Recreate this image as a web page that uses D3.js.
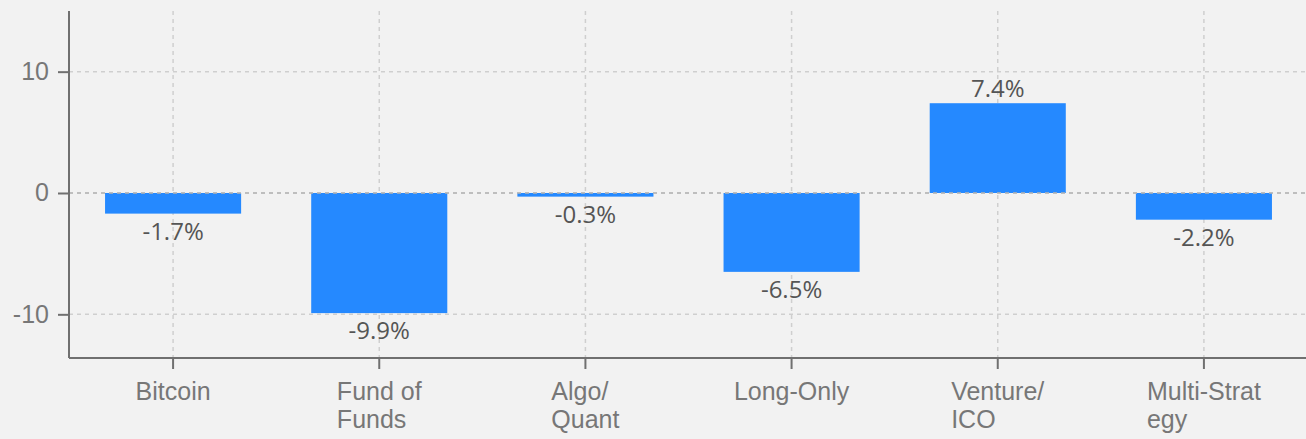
<!DOCTYPE html>
<html>
<head>
<meta charset="utf-8">
<script src="https://cdn.jsdelivr.net/npm/d3@7"></script>
<style>
  html, body { margin: 0; padding: 0; background: #f2f2f2; }
  svg { display: block; }
</style>
</head>
<body>
<div id="chart"></div>
<script>
var categories = ["Bitcoin", "Fund of Funds", "Algo/Quant", "Long-Only", "Venture/ICO", "Multi-Strategy"]
var labelLines = [["Bitcoin"], ["Fund of", "Funds"], ["Algo/", "Quant"], ["Long-Only"], ["Venture/", "ICO"], ["Multi-Strat", "egy"]]
var values = [-1.7, -9.9, -0.3, -6.5, 7.4, -2.2]
var yTicks = [-10, 0, 10]

var width = 1306,
    height = 439,
    margin = {top: 11, right: 0, bottom: 81, left: 69}

var svg = d3.select("#chart")
  .append("svg")
    .attr("width", width)
    .attr("height", height)

svg.append("rect")
  .attr("width", width).attr("height", height)
  .attr("fill", "#f2f2f2")

var x = d3.scaleBand()
  .domain(categories)
  .range([margin.left + 1, width - margin.right + 1])
  .padding(0)

var y = d3.scaleLinear()
  .domain([-13.6, 15])
  .range([height - margin.bottom, margin.top])

var barW = x.bandwidth() * 0.66

// vertical grid
svg.append("g")
  .selectAll("line")
  .data(categories)
  .enter().append("line")
    .attr("x1", function(d) { return x(d) + x.bandwidth() / 2 })
    .attr("x2", function(d) { return x(d) + x.bandwidth() / 2 })
    .attr("y1", margin.top)
    .attr("y2", height - margin.bottom)
    .attr("stroke", "#cfcfcf")
    .attr("stroke-width", 1.5)
    .attr("stroke-dasharray", "4,4")

// horizontal grid
svg.append("g")
  .selectAll("line")
  .data(yTicks)
  .enter().append("line")
    .attr("x1", margin.left)
    .attr("x2", width)
    .attr("y1", function(d) { return y(d) })
    .attr("y2", function(d) { return y(d) })
    .attr("stroke", "#cfcfcf")
    .attr("stroke-width", 1.5)
    .attr("stroke-dasharray", "4,4")

// bars
svg.append("g")
  .selectAll("rect")
  .data(values)
  .enter().append("rect")
    .attr("x", function(d, i) { return x(categories[i]) + (x.bandwidth() - barW) / 2 })
    .attr("width", barW)
    .attr("y", function(d) { return y(Math.max(0, d)) })
    .attr("height", function(d) { return Math.abs(y(d) - y(0)) })
    .attr("fill", "#2589ff")

// zero line on top
svg.append("line")
  .attr("x1", margin.left).attr("x2", width)
  .attr("y1", y(0)).attr("y2", y(0))
  .attr("stroke", "#b5b5b5")
  .attr("stroke-width", 1.5)
  .attr("stroke-dasharray", "4,4")

// value labels
svg.append("g")
  .selectAll("text")
  .data(values)
  .enter().append("text")
    .attr("x", function(d, i) { return x(categories[i]) + x.bandwidth() / 2 })
    .attr("y", function(d) { return d < 0 ? y(d) + 26 : y(d) - 6 })
    .attr("text-anchor", "middle")
    .style("font-family", "'Open Sans', sans-serif")
    .style("font-size", "24px")
    .style("fill", "#555")
    .text(function(d) { return d.toFixed(1) + "%" })

// y axis
var yAxis = svg.append("g")
  .attr("transform", "translate(" + margin.left + ",0)")
  .call(d3.axisLeft(y).tickValues(yTicks).tickSize(11).tickPadding(9)
    .tickFormat(function(d) { return String(d) }))
yAxis.select(".domain").attr("stroke", "#707070").attr("stroke-width", 2).attr("d", "M0," + margin.top + "V" + (height - margin.bottom))
yAxis.selectAll(".tick line").attr("stroke", "#707070").attr("stroke-width", 2)
yAxis.selectAll(".tick text")
  .style("font-family", "'Liberation Sans', Arial, sans-serif")
  .style("font-size", "25px")
  .style("fill", "#777")

// x axis
var xAxis = svg.append("g")
  .attr("transform", "translate(0," + (height - margin.bottom) + ")")
  .call(d3.axisBottom(x).tickSize(11).tickFormat(""))
xAxis.select(".domain").attr("stroke", "#707070").attr("stroke-width", 2).attr("d", "M" + margin.left + ",0H" + width)
xAxis.selectAll(".tick line").attr("stroke", "#707070").attr("stroke-width", 2)

// category labels, wrapped and left aligned, block centred on tick
var lab = svg.append("g")
  .selectAll("text")
  .data(categories)
  .enter().append("text")
    .style("font-family", "'Liberation Sans', Arial, sans-serif")
    .style("font-size", "25px")
    .style("fill", "#777")

lab.each(function(d, i) {
  var t = d3.select(this)
  labelLines[i].forEach(function(line, k) {
    t.append("tspan")
      .attr("y", height - margin.bottom + 42 + k * 28)
      .text(line)
  })
  var maxW = 0
  t.selectAll("tspan").each(function() { maxW = Math.max(maxW, this.getComputedTextLength()) })
  var left = x(d) + x.bandwidth() / 2 - maxW / 2
  t.selectAll("tspan").attr("x", left)
})
</script>
</body>
</html>
